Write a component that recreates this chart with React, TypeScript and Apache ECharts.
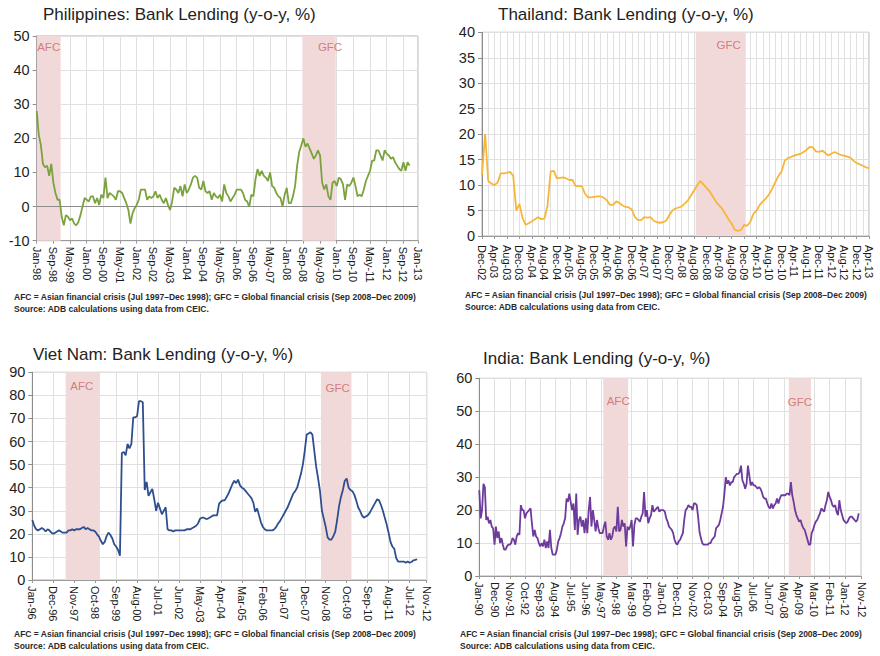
import React, { useEffect, useRef } from "react";
import * as echarts from "echarts";

const MONTH_NAMES = ["Jan", "Feb", "Mar", "Apr", "May", "Jun", "Jul", "Aug", "Sep", "Oct", "Nov", "Dec"];

// ---------- Crisis periods ----------
const crisisNames = ["AFC", "GFC"];
const crisisStarts = ["Jul-97", "Sep-08"];
const crisisEnds = ["Dec-98", "Dec-09"];

const footnote =
  "AFC = Asian financial crisis (Jul 1997\u2013Dec 1998); GFC = Global financial crisis (Sep 2008\u2013Dec 2009)\nSource: ADB calculations using data from CEIC.";

// ---------- Philippines (monthly, Jan-98 … Dec-12) ----------
const phTitle = "Philippines: Bank Lending (y-o-y, %)";
const phStart = "Jan-98";
const phTickLabels = ["Jan-98", "Sep-98", "May-99", "Jan-00", "Sep-00", "May-01", "Jan-02", "Sep-02", "May-03", "Jan-04", "Sep-04", "May-05", "Jan-06", "Sep-06", "May-07", "Jan-08", "Sep-08", "May-09", "Jan-10", "Sep-10", "May-11", "Jan-12", "Sep-12", "Jan-13"];
const phValues = [
  28, 21, 18, 12.5, 11.5, 12, 9, 12.5, 7, 4, 2, 2,
  -3, -5.5, -2.5, -3, -4, -3.5, -5, -5.5, -4.5, -2.5, 0, 2.5,
  2, 1.5, 3, 3, 1, 2.5, 0.5, 3.5, 2.5, 8.5, 2.5, 4,
  3.5, 3, 2, 4.5, 4.5, 4, 2.5, 1, -1, -5, -2, -0.5,
  0.5, 2, 5, 5, 5, 2, 3, 2.5, 3, 4.5, 2.5, 3.5,
  2, 1, 2.5, 0.5, -1, 1.5, 5.5, 5, 4, 6, 3, 6.5,
  4, 5, 6.5, 8.5, 9, 8.5, 5.5, 5, 7.5, 4.5, 4, 4.5,
  2, 4, 3, 2.5, 3.5, 1.5, 6.5, 4, 3, 1.5, 2.5, 3.5,
  5, 5, 5, 4, 2, 1.5, 0, 3.5, 3, 8, 11, 9,
  10.5, 9, 8.5, 7.5, 10, 6, 5.5, 4, 3, 2.5, 0, 3.5,
  5.5, 1, 1, 3, 6, 12, 16, 18, 20, 17.5, 18.5, 17,
  15.5, 14, 15, 16.5, 15, 7, 5, 6.5, 3, 2, 7, 7.5,
  6, 8.5, 8, 6.5, 2, 6.5, 6, 7, 8.5, 6, 3, 3.5,
  3, 5, 7.5, 9, 10.5, 13.5, 13.5, 16.5, 16.5, 15, 13.5, 16.5,
  15.5, 15, 14, 14.5, 13, 12, 11, 10.5, 13, 10.5, 13, 12,
];

// ---------- Thailand (monthly, Dec-02 … Apr-13) ----------
const thTitle = "Thailand: Bank Lending (y-o-y, %)";
const thStart = "Dec-02";
const thTickLabels = ["Dec-02", "Apr-03", "Aug-03", "Dec-03", "Apr-04", "Aug-04", "Dec-04", "Apr-05", "Aug-05", "Dec-05", "Apr-06", "Aug-06", "Dec-06", "Apr-07", "Aug-07", "Dec-07", "Apr-08", "Aug-08", "Dec-08", "Apr-09", "Aug-09", "Dec-09", "Apr-10", "Aug-10", "Dec-10", "Apr-11", "Aug-11", "Dec-11", "Apr-12", "Aug-12", "Dec-12", "Apr-13"];
const thValues = [
  12, 20, 10.8, 10.3, 10, 10.5, 12.3, 12.3, 12.4, 12.6, 11.8, 5,
  6.3, 3.5, 2.2, 2.5, 2.9, 3.3, 3.7, 3.3, 3.4, 6, 12.7, 12.8,
  11.3, 11.4, 11.5, 11.3, 11, 11, 9.8, 9.8, 9.8, 8.3, 7.6, 7.6,
  7.7, 7.8, 7.8, 7.5, 7, 6.1, 6.1, 6.8, 6.5, 6, 5.7, 5.6,
  5.2, 3.7, 3.1, 3.1, 3.7, 3.6, 3.7, 3, 2.7, 2.6, 2.7, 3,
  4.1, 5, 5.4, 5.6, 5.8, 6.4, 7, 8, 9, 10, 10.8, 10.1,
  9.4, 8.7, 7.7, 6.7, 6, 5.3, 4.3, 3.3, 2.4, 1.2, 1, 1.2,
  2.2, 2, 2.8, 4.4, 5, 6.1, 6.8, 7.4, 8.2, 9.3, 10.6, 11.8,
  12.7, 14.8, 15.3, 15.5, 15.8, 16, 16.1, 16.5, 16.9, 17.5, 17.4, 16.6,
  16.5, 16.8, 16.3, 15.8, 16.2, 16.5, 16.2, 15.9, 15.8, 15.6, 15.4, 14.8,
  14.3, 14.1, 13.8, 13.5, 13.3,
];

// ---------- Viet Nam (monthly, Jan-96 … Nov-12) ----------
const vnTitle = "Viet Nam: Bank Lending (y-o-y, %)";
const vnStart = "Jan-96";
const vnTickLabels = ["Jan-96", "Dec-96", "Nov-97", "Oct-98", "Sep-99", "Aug-00", "Jul-01", "Jun-02", "May-03", "Apr-04", "Mar-05", "Feb-06", "Jan-07", "Dec-07", "Nov-08", "Oct-09", "Sep-10", "Aug-11", "Jul-12", "Nov-12"];
const vnValues = [
  26, 23.5, 22, 21.5, 22, 22.5, 22, 21, 22, 21.5, 20.5, 20,
  20.5, 21, 21.5, 21, 20.5, 20.5, 20.5, 21.5, 21.5, 22, 21.5, 22,
  22, 22, 22.5, 23, 22, 22.5, 22, 21.5, 21.5, 21, 19.8, 18.8,
  17, 15.5, 16.5, 19, 20.5, 19.5, 18, 15.5, 14.5, 13, 10.5, 55,
  55.5, 54, 59, 57, 59, 70.5, 70.5, 71, 77.5, 77.5, 77, 39,
  42.5, 36.5, 38, 39.5, 35, 30, 33.5, 31, 28.5, 30, 31.5, 22,
  21.5, 21.5, 21, 21.5, 21.5, 21.5, 21.5, 21.5, 21.5, 22, 22, 22,
  22.5, 23, 23.5, 24.5, 26.5, 27, 27, 26.5, 26.5, 27, 27.5, 28,
  28, 28, 33, 34, 34.5, 34.5, 36, 37.5, 39.5, 41.5, 43, 42,
  43.5, 41, 40, 39.5, 38.5, 37.5, 36.5, 35.5, 33.5, 29.5, 31, 28,
  25, 23, 22, 21.5, 21.5, 21.5, 21.5, 22, 23, 24.5, 25.5, 27,
  28.5, 30, 31.5, 33.5, 35.5, 37.5, 38.5, 40, 43, 46, 50, 56,
  63, 63.5, 64, 63, 56, 49, 44, 38.5, 30, 26.5, 23, 18.5,
  17.5, 17.5, 19, 21, 26, 32, 36, 39, 43, 44, 40, 39,
  38.5, 37, 34.5, 31.5, 30, 28, 27, 27.5, 28, 29, 30.5, 32,
  33.5, 35, 34.5, 32.5, 30, 27, 24, 20.5, 16.5, 14.5, 13.5, 9.5,
  8, 8, 8, 8, 7.5, 8, 7.5, 7.8, 8.5, 8.7, 9,
];

// ---------- India (monthly, Jan-90 … Nov-12) ----------
const inTitle = "India: Bank Lending (y-o-y, %)";
const inStart = "Jan-90";
const inTickLabels = ["Jan-90", "Dec-90", "Nov-91", "Oct-92", "Sep-93", "Aug-94", "Jul-95", "Jun-96", "May-97", "Apr-98", "Mar-99", "Feb-00", "Jan-01", "Dec-01", "Nov-02", "Oct-03", "Sep-04", "Aug-05", "Jul-06", "Jun-07", "May-08", "Apr-09", "Mar-10", "Feb-11", "Jan-12", "Nov-12"];
const inValues = [
  26, 17.5, 20, 28, 27, 17, 18, 16, 17, 15, 14.5, 9.5,
  15, 11.5, 13.5, 10, 11.5, 9.5, 8, 8, 9, 9.5, 9.5, 10,
  11.5, 11, 9.5, 12, 13, 12.5, 21.5, 20, 20, 17.5, 19, 19.5,
  20, 20.5, 16, 12, 14, 12, 11.5, 10, 9, 10, 9, 11,
  8.5, 10.5, 8.5, 14, 8.5, 6.5, 6.5, 6.5, 8, 10.5, 11.5, 13,
  15, 16, 17.5, 23.5, 22.5, 25, 22.5, 20, 22, 14, 25, 12.5,
  17, 18, 15, 17, 13, 17.5, 13, 20, 24, 15, 20, 17,
  13.5, 17, 14.5, 13, 13, 13, 15, 16.5, 12, 11, 13, 11,
  12, 14.5, 15, 13.5, 21, 13.5, 14, 17, 15, 16, 9, 15,
  14, 15, 17, 9, 15.5, 17.5, 17.5, 17, 16.5, 18, 19, 25.5,
  18, 20, 16, 17.5, 18.5, 21.5, 19.5, 20, 20.5, 21, 19.5, 20,
  20, 20, 19.5, 17.5, 16.5, 15, 14.5, 14, 13, 11, 10, 9.5,
  10.5, 11, 12, 13, 17, 20, 20.5, 21.5, 21, 21, 20, 22,
  22, 21.5, 18, 13.5, 11.5, 10, 9.5, 9.5, 9.5, 9.5, 10, 10,
  11, 11.5, 12, 14.5, 15, 15.5, 17, 19, 21, 25, 30, 28,
  29, 27.5, 28.5, 28.5, 30, 30.5, 31, 31, 31.5, 33.5, 29, 28,
  26.5, 28, 33.5, 30.5, 27.5, 28.5, 27.5, 27.5, 27, 26.5, 27, 26.5,
  25.5, 24, 23.5, 23.5, 22, 21, 20.5, 22, 20.5, 21.5, 22, 23.5,
  22, 23.5, 24.5, 24.5, 24.5, 24.5, 25, 25, 24.5, 28.5, 24.5, 22.5,
  20, 18.5, 17.5, 16.5, 17, 15.5, 14.5, 14, 12.5, 11, 9.5, 9.5,
  13, 14, 15.5, 16.5, 17, 18, 19, 20.5, 20, 19.5, 21.5, 23,
  25.5, 24, 23, 21.5, 21, 21.5, 19.5, 18.5, 23, 20, 18.5, 17,
  16.5, 16, 16.5, 17.5, 18, 18, 17.5, 17, 16.5, 17, 19,
];

// ---------- helpers ----------
function monthNumber(label: string): number {
  const [m, yy] = label.split("-");
  const y2 = parseInt(yy, 10);
  const year = y2 >= 50 ? 1900 + y2 : 2000 + y2;
  return year * 12 + MONTH_NAMES.indexOf(m);
}
function monthOffset(start: string, label: string): number {
  return monthNumber(label) - monthNumber(start);
}

// ---------- layout / style per panel ----------
const FONT = "'Liberation Sans', Arial, Helvetica, sans-serif";
const panels = [
  {
    title: phTitle, start: phStart, values: phValues, ticks: phTickLabels, step: 8, xMax: 183,
    yMin: -10, yMax: 50, yStep: 10, color: "#7aa23e", zero: true, minorX: false,
    grid: { left: 36.7, top: 36, width: 381.3, height: 204.7 }, labelMargin: 6,
    titlePos: { left: 43, top: 6 }, notePos: { left: 14, top: 291.5 },
    bandLabel: { AFC: { dx: 0, d: 5 }, GFC: { dx: 11, d: 5 } },
  },
  {
    title: thTitle, start: thStart, values: thValues, ticks: thTickLabels, step: 4, xMax: 124,
    yMin: 0, yMax: 40, yStep: 5, color: "#f6b63a", zero: false, minorX: true,
    grid: { left: 482, top: 32.3, width: 387, height: 203.7 }, labelMargin: 9,
    titlePos: { left: 498, top: 6 }, notePos: { left: 465, top: 289.3 },
    bandLabel: { AFC: { dx: 0, d: 5 }, GFC: { dx: 8, d: 7 } },
  },
  {
    title: vnTitle, start: vnStart, values: vnValues, ticks: vnTickLabels, step: 11, xMax: 207,
    yMin: 0, yMax: 90, yStep: 10, color: "#2e4f8e", zero: false, minorX: false,
    grid: { left: 32.3, top: 372.3, width: 394.4, height: 207.7 }, labelMargin: 6,
    titlePos: { left: 33, top: 346 }, notePos: { left: 14, top: 628.5 },
    bandLabel: { AFC: { dx: -1, d: 8 }, GFC: { dx: 1.5, d: 10 } },
  },
  {
    title: inTitle, start: inStart, values: inValues, ticks: inTickLabels, step: 11, xMax: 276,
    yMin: 0, yMax: 60, yStep: 10, color: "#6c3b9c", zero: false, minorX: false,
    grid: { left: 479.3, top: 378.3, width: 382.2, height: 197.7 }, labelMargin: 6,
    titlePos: { left: 483, top: 349.5 }, notePos: { left: 460, top: 628.5 },
    bandLabel: { AFC: { dx: 2.5, d: 16.5 }, GFC: { dx: 0, d: 18 } },
  },
];

function buildOption() {
  const titles: any[] = [];
  const grids: any[] = [];
  const xAxes: any[] = [];
  const yAxes: any[] = [];
  const series: any[] = [];

  panels.forEach((p, k) => {
    titles.push({
      text: p.title, left: p.titlePos.left, top: p.titlePos.top, padding: 0,
      textStyle: { fontSize: 17, fontWeight: "normal", color: "#222", fontFamily: FONT },
    });
    titles.push({
      text: footnote, left: p.notePos.left, top: p.notePos.top, padding: 0,
      textStyle: { fontSize: 8.5, lineHeight: 11.5, fontWeight: "bold", color: "#2a2a2a", fontFamily: FONT },
    });
    grids.push({ ...p.grid, show: true, borderColor: "#b0b0b0", borderWidth: 1, backgroundColor: "#fff", containLabel: false });

    const ticks = p.ticks;
    const xMax = p.xMax;
    const step = p.step;
    xAxes.push({
      type: "value", gridIndex: k, min: 0, max: xMax, interval: step,
      axisLine: { show: true, onZero: false, lineStyle: { color: "#9a9a9a", width: 1 } },
      axisTick: { show: true, length: 3, lineStyle: { color: "#9a9a9a" } },
      axisLabel: {
        rotate: -90, fontSize: 11, color: "#1a1a1a", fontFamily: FONT, margin: p.labelMargin,
        showMinLabel: true, showMaxLabel: true,
        formatter: (v: number) => (v >= xMax ? ticks[ticks.length - 1] : ticks[Math.round(v / step)] || ""),
      },
      splitLine: { show: true, lineStyle: { color: "#e0e0e0", width: 1 } },
      minorTick: { show: false, splitNumber: 2 },
      minorSplitLine: { show: p.minorX, lineStyle: { color: "#e0e0e0", width: 1 } },
    });
    yAxes.push({
      type: "value", gridIndex: k, min: p.yMin, max: p.yMax, interval: p.yStep,
      axisLine: { show: true, lineStyle: { color: "#8c8c8c", width: 1 } },
      axisTick: { show: true, length: 4, lineStyle: { color: "#8c8c8c" } },
      axisLabel: { fontSize: 14.5, color: "#1e1e1e", fontFamily: FONT, margin: 7 },
      splitLine: { show: true, lineStyle: { color: "#e0e0e0", width: 1 } },
    });

    const bands: any[] = [];
    crisisNames.forEach((name, c) => {
      let s = monthOffset(p.start, crisisStarts[c]) - 0.5;
      const e = monthOffset(p.start, crisisEnds[c]) + 0.5;
      if (e <= 0) return;
      if (s < 0) s = 0;
      const bl = (p.bandLabel as any)[name];
      bands.push([
        { name, xAxis: s, label: { offset: [bl.dx, 0], distance: bl.d } },
        { xAxis: e },
      ]);
    });

    series.push({
      type: "line", xAxisIndex: k, yAxisIndex: k,
      data: p.values.map((v, i) => [i, v]),
      showSymbol: false, symbol: "none", z: 5,
      lineStyle: { color: p.color, width: 1.8 }, itemStyle: { color: p.color },
      markArea: {
        silent: true,
        itemStyle: { color: "#f2d9d9", opacity: 1 },
        label: { show: true, position: "insideTop", fontSize: 11.5, color: "#d27d7d", fontFamily: FONT },
        data: bands,
      },
      markLine: p.zero
        ? {
            silent: true, symbol: ["none", "none"], label: { show: false },
            lineStyle: { color: "#8c8c8c", type: "solid", width: 1 },
            data: [{ yAxis: 0 }],
          }
        : undefined,
    });
  });

  return {
    animation: false,
    backgroundColor: "#ffffff",
    textStyle: { fontFamily: FONT },
    title: titles,
    grid: grids,
    xAxis: xAxes,
    yAxis: yAxes,
    series,
  };
}

export default function App() {
  const ref = useRef<HTMLDivElement>(null);
  useEffect(() => {
    if (!ref.current) return;
    const chart = echarts.init(ref.current, undefined, { renderer: "svg" });
    chart.setOption(buildOption() as any);
    return () => chart.dispose();
  }, []);
  return (
    <div
      ref={ref}
      style={{ position: "absolute", left: 0, top: 0, width: 880, height: 656, background: "#fff" }}
    />
  );
}
